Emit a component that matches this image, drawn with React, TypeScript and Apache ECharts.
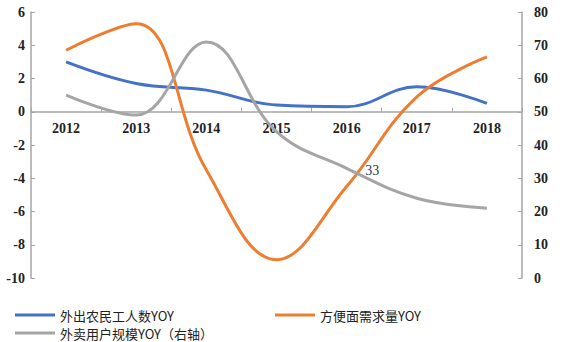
import React, { useEffect, useRef } from "react";
import * as echarts from "echarts";

const years = ["2012", "2013", "2014", "2015", "2016", "2017", "2018"];
const migrantWorkersYoy = [3.0, 1.7, 1.3, 0.4, 0.3, 1.5, 0.5];
const instantNoodleYoy = [3.7, 5.3, -3.5, -8.9, -4.5, 0.9, 3.3];
const deliveryUsersYoy = [55, 49, 71, 44, 33, 24, 21];
const labelledYearIndex = 4;

const NAME_BLUE = "外出农民工人数YOY";
const NAME_ORANGE = "方便面需求量YOY";
const NAME_GRAY = "外卖用户规模YOY（右轴）";

const BLUE = "#4472C4";
const ORANGE = "#ED7D31";
const GRAY = "#A5A5A5";
const AXIS = "#A6A6A6";
const SERIF = "Liberation Serif, Times New Roman, DejaVu Serif, serif";
const CJK = "Noto Sans CJK SC, sans-serif";

const GRID_TOP = 12;
const GRID_BOTTOM = 64;
const HEIGHT = 342;
const LEFT_MIN = -10;
const LEFT_MAX = 6;

export default function App() {
  const ref = useRef<HTMLDivElement>(null);

  useEffect(() => {
    if (!ref.current) return;
    const chart = echarts.init(ref.current, null, { renderer: "svg" });

    const axisLabel = {
      color: "#222",
      fontFamily: SERIF,
      fontSize: 14,
      fontWeight: "bold" as const,
    };

    // lift the category axis from the grid bottom up to the zero line of the left axis
    const plotH = HEIGHT - GRID_TOP - GRID_BOTTOM;
    const zeroLift = (plotH * (0 - LEFT_MIN)) / (LEFT_MAX - LEFT_MIN);

    const legendBase = {
      icon: "rect",
      itemWidth: 40,
      itemHeight: 3,
      itemGap: 4,
      textStyle: { fontFamily: CJK, fontSize: 13, lineHeight: 14, color: "#222" },
      padding: 0,
    };

    chart.setOption({
      animation: false,
      backgroundColor: "#fff",
      grid: { left: 31, right: 48, top: GRID_TOP, bottom: GRID_BOTTOM },
      legend: [
        { ...legendBase, data: [NAME_BLUE], left: 15, top: 308 },
        { ...legendBase, data: [NAME_ORANGE], left: 275, top: 308 },
        { ...legendBase, data: [NAME_GRAY], left: 15, top: 326 },
      ],
      xAxis: {
        type: "category",
        data: years,
        boundaryGap: true,
        position: "bottom",
        offset: -zeroLift,
        axisLine: { onZero: false, lineStyle: { color: AXIS, width: 1.5 } },
        axisTick: { show: true, inside: true, length: 4, lineStyle: { color: AXIS } },
        axisLabel: { ...axisLabel, margin: 10 },
      },
      yAxis: [
        {
          type: "value",
          min: LEFT_MIN,
          max: LEFT_MAX,
          interval: 2,
          position: "left",
          axisLine: { show: true, lineStyle: { color: AXIS, width: 1.5 } },
          axisTick: { show: true, inside: true, length: 4, lineStyle: { color: AXIS } },
          axisLabel: { ...axisLabel, margin: 6 },
          splitLine: { show: false },
        },
        {
          type: "value",
          min: 0,
          max: 80,
          interval: 10,
          position: "right",
          axisLine: { show: true, lineStyle: { color: AXIS, width: 1.5 } },
          axisTick: { show: true, inside: true, length: 4, lineStyle: { color: AXIS } },
          axisLabel: { ...axisLabel, margin: 12 },
          splitLine: { show: false },
        },
      ],
      series: [
        {
          name: NAME_BLUE,
          type: "line",
          data: migrantWorkersYoy,
          smooth: 0.4,
          symbol: "none",
          lineStyle: { color: BLUE, width: 3 },
          itemStyle: { color: BLUE },
        },
        {
          name: NAME_ORANGE,
          type: "line",
          data: instantNoodleYoy,
          smooth: 0.4,
          symbol: "none",
          lineStyle: { color: ORANGE, width: 3 },
          itemStyle: { color: ORANGE },
        },
        {
          name: NAME_GRAY,
          type: "line",
          yAxisIndex: 1,
          data: deliveryUsersYoy.map((v, i) =>
            i === labelledYearIndex
              ? {
                  value: v,
                  symbol: "circle",
                  symbolSize: 1,
                  label: {
                    show: true,
                    position: "right",
                    distance: 18,
                    offset: [0, 2],
                    color: "#2b3a55",
                    fontFamily: SERIF,
                    fontSize: 14,
                    formatter: "{c}",
                  },
                }
              : { value: v, symbol: "none" }
          ),
          smooth: 0.4,
          showSymbol: true,
          lineStyle: { color: GRAY, width: 3 },
          itemStyle: { color: GRAY },
        },
      ],
    });

    return () => chart.dispose();
  }, []);

  return (
    <div
      ref={ref}
      style={{ position: "fixed", left: 0, top: 0, width: 570, height: HEIGHT }}
    />
  );
}
